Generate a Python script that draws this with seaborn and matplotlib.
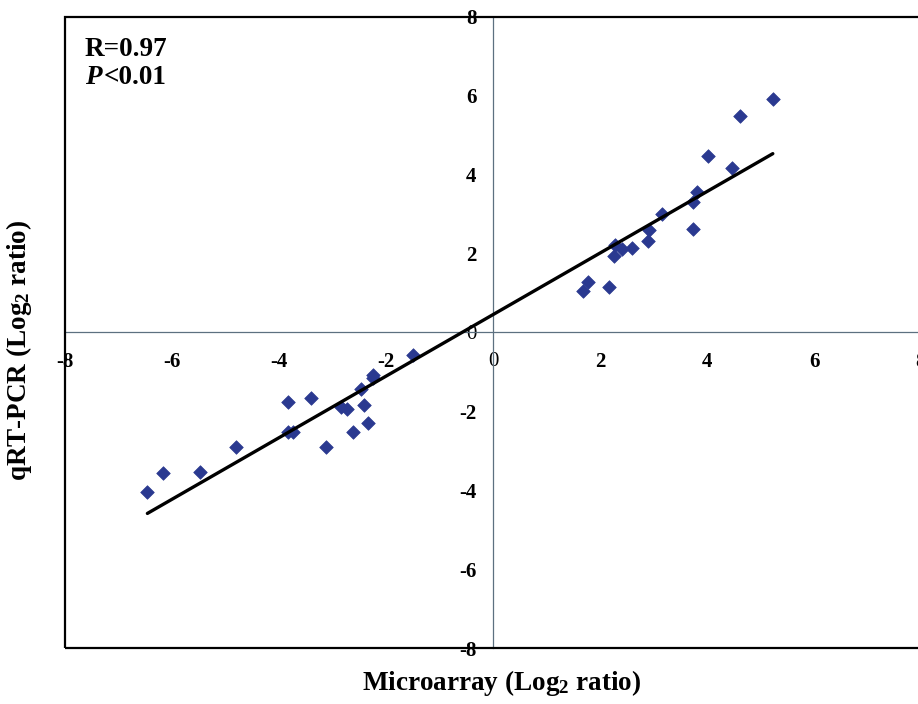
import matplotlib
matplotlib.use("Agg")
import matplotlib.pyplot as plt
import seaborn as sns
import pandas as pd
from matplotlib.patches import Rectangle

microarray = [-6.46, -6.17, -5.48, -4.81, -3.83, -3.83, -3.74, -3.41, -3.13, -2.85,
              -2.73, -2.62, -2.47, -2.41, -2.33, -2.25, -2.24, -1.49,
              1.68, 1.77, 2.16, 2.27, 2.28, 2.41, 2.59, 2.89, 2.92, 3.15,
              3.73, 3.74, 3.82, 4.02, 4.47, 4.62, 5.23]
qrtpcr = [-4.04, -3.55, -3.53, -2.90, -1.75, -2.52, -2.52, -1.67, -2.91, -1.90,
          -1.95, -2.52, -1.42, -1.84, -2.30, -1.08, -1.16, -0.57,
          1.05, 1.29, 1.16, 1.94, 2.22, 2.11, 2.13, 2.32, 2.60, 3.00,
          3.30, 2.62, 3.57, 4.48, 4.16, 5.50, 5.92]
tick_values = [-8, -6, -4, -2, 0, 2, 4, 6, 8]
tick_labels = ["-8", "-6", "-4", "-2", "0", "2", "4", "6", "8"]

df = pd.DataFrame({"Microarray": microarray, "qRT-PCR": qrtpcr})

sns.set_style("white")
plt.rcParams["font.family"] = ["Liberation Serif", "DejaVu Serif"]
plt.rcParams["text.color"] = "black"
plt.rcParams["xtick.labelcolor"] = "black"
plt.rcParams["ytick.labelcolor"] = "black"
plt.rcParams["mathtext.fontset"] = "custom"
plt.rcParams["mathtext.rm"] = "Liberation Serif:bold"
plt.rcParams["mathtext.bf"] = "Liberation Serif:bold"
plt.rcParams["mathtext.it"] = "Liberation Serif:bold:italic"

fig = plt.figure(figsize=(9.18, 7.04), dpi=100)
ax = fig.add_axes([65 / 918, 56 / 704, 856 / 918, 631 / 704])

sns.scatterplot(data=df, x="Microarray", y="qRT-PCR", ax=ax, marker="D",
                s=48, color="#2A3990", edgecolor="#2A3990", linewidth=0.5, zorder=3)
sns.regplot(data=df, x="Microarray", y="qRT-PCR", ax=ax, scatter=False, ci=None,
            truncate=True, line_kws={"color": "black", "lw": 2.4, "zorder": 4})

ax.set_xlim(-8, 8)
ax.set_ylim(-8, 8)
ax.set_xlabel("")
ax.set_ylabel("")

axis_col = "#5C7080"
for side in ["left", "bottom"]:
    ax.spines[side].set_position(("data", 0))
    ax.spines[side].set_color(axis_col)
    ax.spines[side].set_linewidth(0.9)
    ax.spines[side].set_zorder(1)
for side in ["top", "right"]:
    ax.spines[side].set_visible(False)

ax.add_patch(Rectangle((0, 0), 1, 1, transform=ax.transAxes, fill=False,
                       lw=1.6, edgecolor="black", clip_on=False, zorder=5))

ax.set_xticks(tick_values)
ax.set_xticklabels(tick_labels)
ax.set_yticks(tick_values)
ax.set_yticklabels(tick_labels)
ax.tick_params(axis="x", direction="in", length=5, width=0.9, color=axis_col,
               pad=14, labelsize=15, labelcolor="black")
ax.tick_params(axis="y", direction="in", length=5, width=0.9, color=axis_col,
               pad=12, labelsize=15, labelcolor="black")
for lab in ax.get_xticklabels() + ax.get_yticklabels():
    lab.set_fontweight("bold")
    if lab.get_text() == "0":
        lab.set_fontweight("normal")

fig.text(502 / 918, (704 - 683) / 704, r"Microarray (Log$_\mathbf{2}$ ratio)",
         ha="center", va="center", fontsize=19.5, fontweight="bold", color="black")
fig.text(19 / 918, (704 - 350) / 704, r"qRT-PCR (Log$_\mathbf{2}$ ratio)",
         ha="center", va="center", rotation=90, fontsize=19.5, fontweight="bold",
         color="black")

fig.text(85 / 918, (704 - 49) / 704, "R=0.97", ha="left", va="center",
         fontsize=19.5, fontweight="bold", color="black")
fig.text(85 / 918, (704 - 77) / 704, "P", ha="left", va="center",
         fontsize=19.5, fontweight="bold", style="italic", color="black")
fig.text(104 / 918, (704 - 77) / 704, "<0.01", ha="left", va="center",
         fontsize=19.5, fontweight="bold", color="black")

fig.savefig("out.png", dpi=100, facecolor="white")
